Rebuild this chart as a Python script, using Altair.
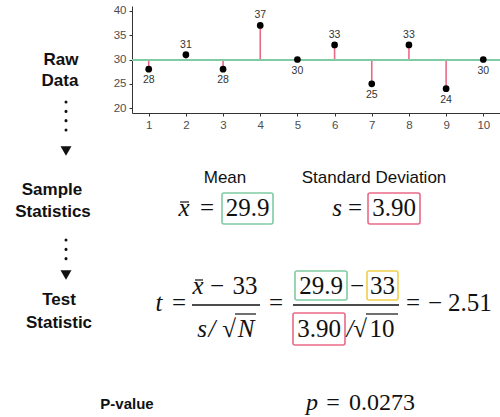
import altair as alt
import pandas as pd

# ---- data ----
obs_index = [1, 2, 3, 4, 5, 6, 7, 8, 9, 10]
obs_value = [28, 31, 28, 37, 30, 33, 25, 33, 24, 30]
y_ticks = [20, 25, 30, 35, 40]
mean_txt = "29.9"
sd_txt = "3.90"
mu0_txt = "33"
n_txt = "10"
t_txt = "2.51"
p_txt = "0.0273"

df = pd.DataFrame({"i": obs_index, "v": obs_value})

OX, OY = 132, 6  # plot origin inside the page
W, H = 368, 107

GREEN = "#7fcba3"
RED = "#ea6a86"
YELLOW = "#f0cf4c"
SANS = "Liberation Sans"
SERIF = "Liberation Serif"

base = alt.Chart(df)
yscale = alt.Scale(domain=[19, 41], nice=False, zero=False)
yaxis = alt.Axis(values=y_ticks, title=None, labelOverlap=False)
xs = alt.X("i:Q", scale=alt.Scale(domain=[0.55, 10.45], nice=False, zero=False),
           axis=alt.Axis(values=obs_index, title=None, format="d", labelOverlap=False))
ys = alt.Y("v:Q", scale=yscale, axis=yaxis)

withmean = base.transform_joinaggregate(m="mean(v)")

stems = withmean.mark_rule(color=RED, strokeWidth=1.6).encode(x=xs, y=ys, y2="m:Q")
meanline = withmean.mark_rule(color=GREEN, strokeWidth=2.1).encode(
    y=alt.Y("m:Q", scale=yscale, axis=yaxis))
pts = base.mark_point(filled=True, color="black", size=45, opacity=1).encode(x=xs, y=ys)
lab_up = base.transform_filter("datum.v > 30").mark_text(
    dy=-10, fontSize=10.5, font=SANS, color="#333").encode(x=xs, y=ys, text="v:Q")
lab_dn = base.transform_filter("datum.v <= 30").mark_text(
    dy=11, fontSize=10.5, font=SANS, color="#333").encode(x=xs, y=ys, text="v:Q")

dummy = alt.Chart(pd.DataFrame({"k": [0]}))


def txt(s, x, y, size=17, font=SANS, weight="normal", style="normal",
        align="center", baseline="middle", color="#111"):
    return dummy.mark_text(text=s, fontSize=size, font=font, fontWeight=weight,
                           fontStyle=style, align=align, baseline=baseline,
                           color=color).encode(x=alt.value(x - OX), y=alt.value(y - OY))


def box(x1, x2, y1, y2, color):
    return dummy.mark_rect(fillOpacity=0, stroke=color, strokeWidth=1.6,
                           cornerRadius=2).encode(
        x=alt.value(x1 - OX), x2=alt.value(x2 - OX),
        y=alt.value(y1 - OY), y2=alt.value(y2 - OY))


def hline(x1, x2, y, w=1.3, color="#111"):
    return dummy.mark_rule(strokeWidth=w, color=color).encode(
        x=alt.value(x1 - OX), x2=alt.value(x2 - OX), y=alt.value(y - OY))


def dots(x, y1, y2):
    return dummy.mark_rule(strokeWidth=3, strokeDash=[0.1, 9.2], strokeCap="round",
                           color="#111").encode(
        x=alt.value(x - OX), y=alt.value(y1 - OY), y2=alt.value(y2 - OY))


def tri(x, y):
    return dummy.mark_point(shape="triangle-down", filled=True, size=120,
                            color="#111", opacity=1).encode(
        x=alt.value(x - OX), y=alt.value(y - OY))


M = 25  # math font size
ann = [
    # left labels
    txt("Raw", 61, 60, weight="bold"),
    txt("Data", 60, 81, weight="bold"),
    dots(66, 102, 139), tri(66, 151),
    txt("Sample", 52, 190, weight="bold"),
    txt("Statistics", 53, 212, weight="bold"),
    dots(66, 240, 261), tri(66, 275),
    txt("Test", 59, 300, weight="bold"),
    txt("Statistic", 59, 323, weight="bold"),
    txt("P-value", 127, 404, size=15, weight="bold"),
    # sample statistics row
    txt("Mean", 225, 178),
    txt("Standard Deviation", 374, 178),
    txt("x", 184, 216, size=M, font=SERIF, style="italic", baseline="alphabetic"),
    hline(180, 189, 202, w=1.2),
    txt("=", 207, 216, size=M, font=SERIF, baseline="alphabetic"),
    box(222, 273, 193, 224, GREEN),
    txt(mean_txt, 247.5, 216, size=M, font=SERIF, baseline="alphabetic"),
    txt("s", 337, 216, size=M, font=SERIF, style="italic", baseline="alphabetic"),
    txt("=", 355, 216, size=M, font=SERIF, baseline="alphabetic"),
    box(368, 420, 193, 224, RED),
    txt(sd_txt, 394, 216, size=M, font=SERIF, baseline="alphabetic"),
    # test statistic row
    txt("t", 159, 311, size=M, font=SERIF, style="italic", baseline="alphabetic"),
    txt("=", 179, 311, size=M, font=SERIF, baseline="alphabetic"),
    txt("x", 198, 294, size=M, font=SERIF, style="italic", baseline="alphabetic"),
    hline(195, 203, 280, w=1.2),
    txt("\u2212", 217, 294, size=M, font=SERIF, baseline="alphabetic"),
    txt(mu0_txt, 245, 294, size=M, font=SERIF, baseline="alphabetic"),
    hline(192, 260, 305),
    txt("s", 202, 337, size=M, font=SERIF, style="italic", baseline="alphabetic"),
    txt("/", 212, 337, size=M, font=SERIF, style="italic", baseline="alphabetic"),
    txt("\u221a", 229, 337, size=M, font=SERIF, baseline="alphabetic"),
    hline(235, 256, 314, w=1.2),
    txt("N", 246, 337, size=M, font=SERIF, style="italic", baseline="alphabetic"),
    txt("=", 276, 311, size=M, font=SERIF, baseline="alphabetic"),
    box(295, 347, 271, 300, GREEN),
    txt(mean_txt, 321, 294, size=M, font=SERIF, baseline="alphabetic"),
    txt("\u2212", 357, 294, size=M, font=SERIF, baseline="alphabetic"),
    box(367, 398, 271, 300, YELLOW),
    txt(mu0_txt, 382.5, 294, size=M, font=SERIF, baseline="alphabetic"),
    hline(293, 399, 305),
    box(293, 345, 313, 345, RED),
    txt(sd_txt, 319, 337, size=M, font=SERIF, baseline="alphabetic"),
    txt("/", 350, 337, size=M, font=SERIF, style="italic", baseline="alphabetic"),
    txt("\u221a", 360, 337, size=M, font=SERIF, baseline="alphabetic"),
    hline(366, 398, 314, w=1.2),
    txt(n_txt, 382, 337, size=M, font=SERIF, baseline="alphabetic"),
    txt("=", 413, 311, size=M, font=SERIF, baseline="alphabetic"),
    txt("\u2212", 435, 311, size=M, font=SERIF, baseline="alphabetic"),
    txt(t_txt, 448, 311, size=M, font=SERIF, align="left", baseline="alphabetic"),
    # p-value
    txt("p", 312, 410, size=24, font=SERIF, style="italic", baseline="alphabetic"),
    txt("=", 333, 410, size=24, font=SERIF, baseline="alphabetic"),
    txt(p_txt, 349, 410, size=24, font=SERIF, align="left", baseline="alphabetic"),
]

chart = alt.layer(stems, meanline, pts, lab_up, lab_dn, *ann).properties(
    width=W, height=H,
    autosize=alt.AutoSizeParams(type="none"),
    padding={"left": OX, "top": OY, "right": 500 - OX - W, "bottom": 417 - OY - H},
    background="white",
).configure_view(strokeWidth=0).configure_axis(
    grid=False, domainColor="#333", tickColor="#333", labelColor="#4d4d4d",
    labelFont=SANS, labelFontSize=11.5, tickSize=3, labelPadding=3, domainWidth=1,
)

chart.save("out.html", embed_options={"renderer": "svg", "actions": False})
